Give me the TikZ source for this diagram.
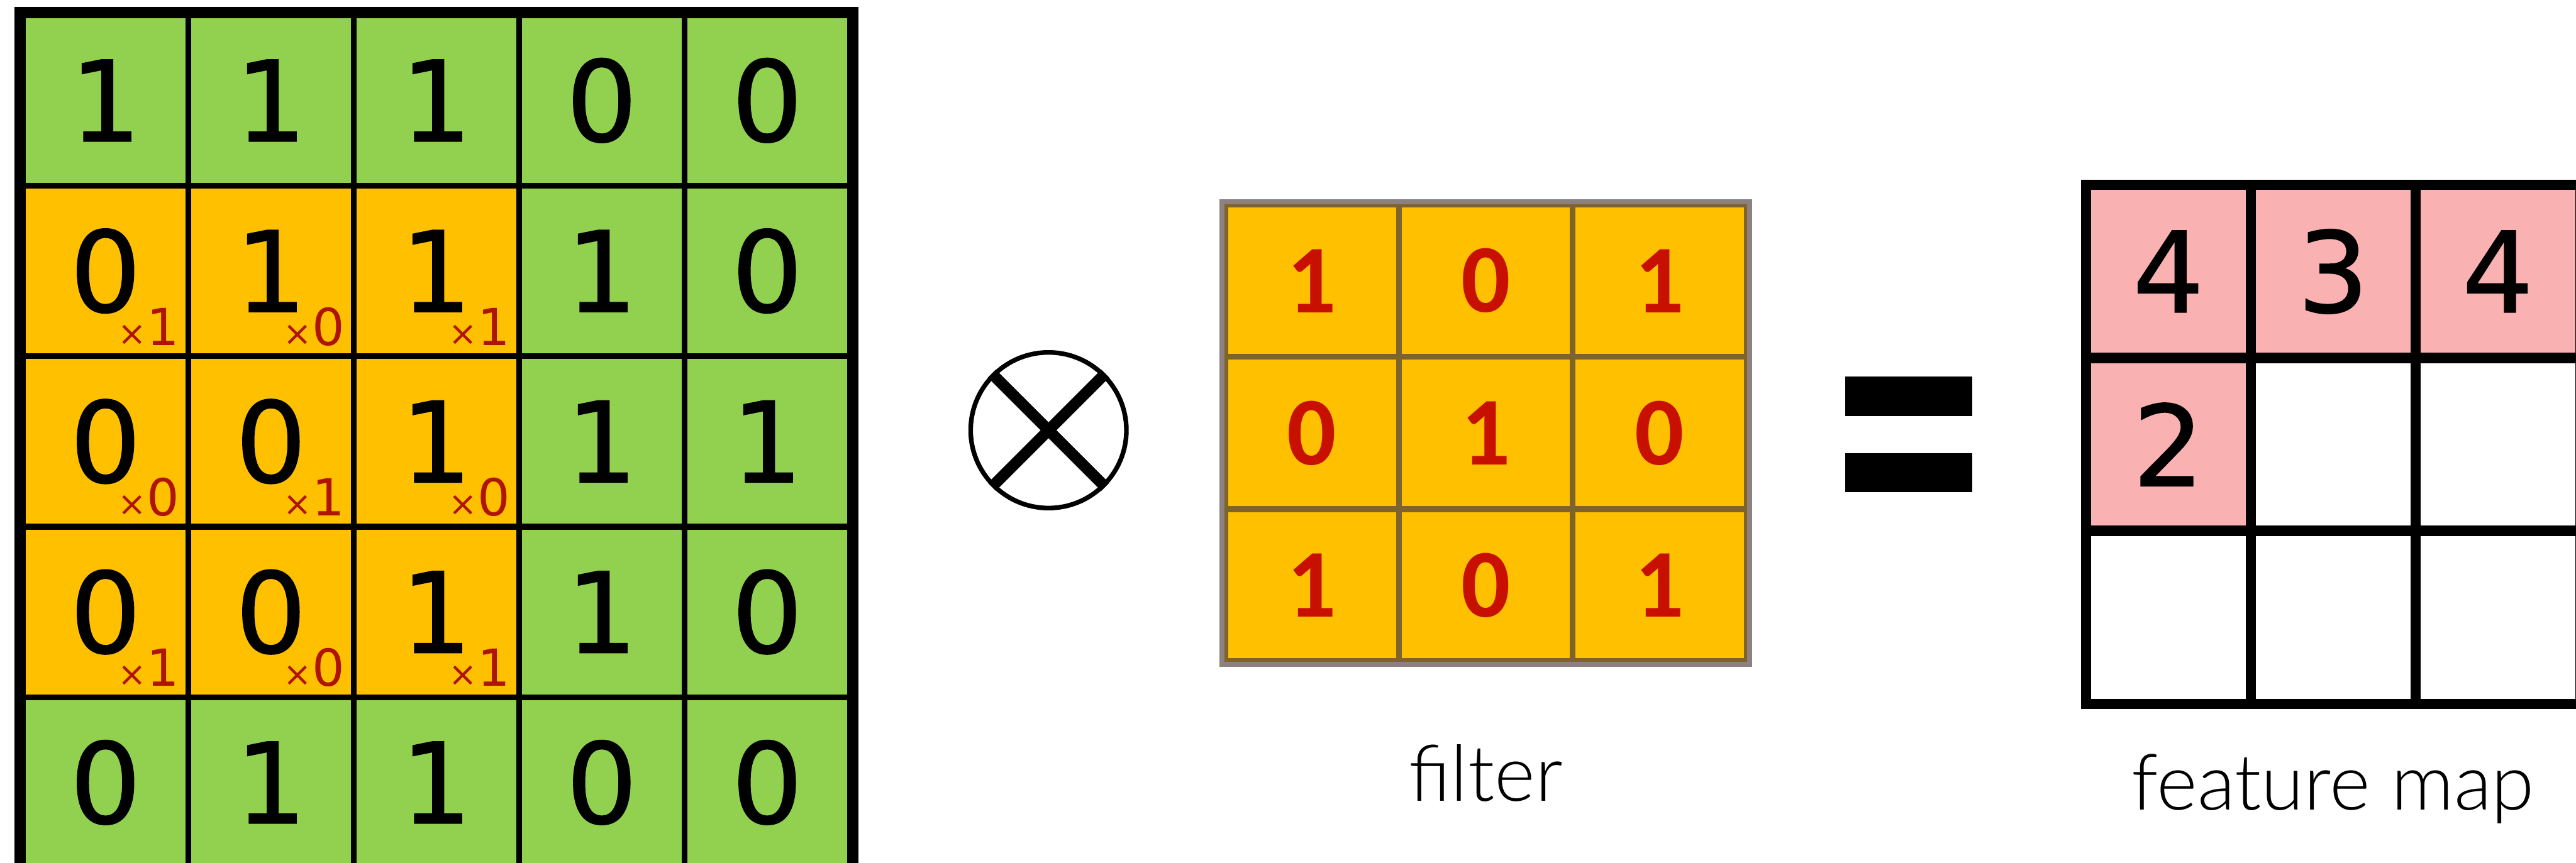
\documentclass[tikz,border=0pt]{standalone}
\usepackage{fontspec}
\setmainfont{DejaVu Sans}
\newfontfamily\digitfont{DejaVu Sans}[FakeBold=1]
\newfontfamily\labelfont{Lato Light}
\newfontfamily\filterfont{Carlito}
\usetikzlibrary{positioning}
\definecolor{cellgreen}{RGB}{146,208,80}
\definecolor{cellorange}{RGB}{255,192,0}
\definecolor{cellpink}{RGB}{250,177,177}
\definecolor{filterred}{RGB}{200,16,0}
\definecolor{subred}{RGB}{175,20,0}
\definecolor{filterline}{RGB}{125,100,40}
\definecolor{filterframe}{RGB}{140,128,128}

\begin{document}
\begin{tikzpicture}[
  incell/.style={draw, line width=1.2pt, minimum width=1.195cm, minimum height=1.2325cm,
    inner sep=0pt, font=\digitfont\fontsize{23}{23}\selectfont},
  weight/.style={anchor=base east, inner sep=0pt, text=subred, font=\fontsize{10.5}{10.5}\selectfont},
  fcell/.style={draw=filterline, line width=1.2pt, fill=cellorange, minimum width=1.256cm,
    minimum height=1.1cm, inner sep=0pt, text=filterred,
    font=\filterfont\bfseries\fontsize{20}{20}\selectfont},
  mcell/.style={draw, line width=2.1pt, minimum width=1.19cm, minimum height=1.25cm,
    inner sep=0pt, font=\digitfont\fontsize{23}{23}\selectfont},
  otimes/.style={circle, draw, line width=0.95pt, minimum size=1.125cm, inner sep=0pt},
  caption/.style={anchor=base, inner sep=0pt, font=\labelfont\fontsize{16}{16}\selectfont}
]
  \useasboundingbox (0,0) rectangle (18.61,6.235);

  % input image
  \foreach \row [count=\r] in {{1,1,1,0,0},{0,1,1,1,0},{0,0,1,1,1},{0,0,1,1,0},{0,1,1,0,0}} {
    \foreach \v [count=\c] in \row {
      \def\cellfill{cellgreen}
      \ifnum\r>1 \ifnum\r<5 \ifnum\c<4 \def\cellfill{cellorange}\fi\fi\fi
      \node[incell, fill=\cellfill] (in-\r-\c) at ({0.165+(\c-0.5)*1.195},{6.125-(\r-0.5)*1.2325}) {\v};
    }
  }
  \foreach \r/\c/\w in {2/1/1,2/2/0,2/3/1,3/1/0,3/2/1,3/3/0,4/1/1,4/2/0,4/3/1}
    \node[weight] (w-\r-\c) at ([shift={(-0.08,0.1)}]in-\r-\c.south east) {{\fontsize{7}{7}\selectfont ×}\w};
  \draw[line width=2.2pt] (in-1-1.north west) rectangle (in-5-5.south east);

  % convolution sign
  \node[otimes] (op) at (7.575,3.125) {};
  \draw[line width=2.3pt] (op.north west) -- (op.south east);
  \draw[line width=2.3pt] (op.north east) -- (op.south west);

  % filter
  \foreach \row [count=\r] in {{1,0,1},{0,1,0},{1,0,1}} {
    \foreach \v [count=\c] in \row
      \node[fcell] (f-\r-\c) at ({8.85+(\c-0.5)*1.256},{4.755-(\r-0.5)*1.1}) {\v};
  }
  \draw[filterframe, line width=1pt] (f-1-1.north west) rectangle (f-3-3.south east);
  \node[caption] (filter-cap) at ([yshift=-0.99cm]f-3-2.south) {filter};

  % equals
  \fill (13.3325,3.515) rectangle (14.25,3.2275);
  \fill (13.3325,2.96) rectangle (14.25,2.6775);

  % feature map
  \foreach \row [count=\r] in {{4,3,4},{2,{},{}},{{},{},{}}} {
    \foreach \v [count=\c] in \row {
      \def\cellfill{white}
      \ifnum\r=1 \def\cellfill{cellpink}\fi
      \ifnum\r=2 \ifnum\c=1 \def\cellfill{cellpink}\fi\fi
      \node[mcell, fill=\cellfill] (m-\r-\c) at ({15.07+(\c-0.5)*1.19},{4.8975-(\r-0.5)*1.25}) {\v};
    }
  }
  \node[caption] (map-cap) at ([yshift=-0.73cm]m-3-2.south) {feature map};
\end{tikzpicture}
\end{document}
